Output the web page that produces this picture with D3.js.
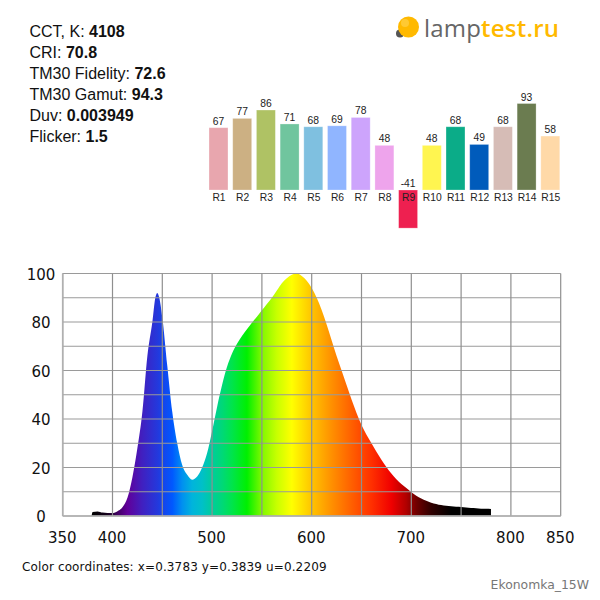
<!DOCTYPE html>
<html><head><meta charset="utf-8">
<script src="https://cdnjs.cloudflare.com/ajax/libs/d3/7.8.5/d3.min.js"></script>
<style>html,body{margin:0;padding:0;background:#fff}svg{display:block}</style>
</head><body><svg id="c" width="600" height="600"></svg>
<script>
const infoLabels=["CCT, K: ","CRI: ","TM30 Fidelity: ","TM30 Gamut: ","Duv: ","Flicker: "];
const infoValues=["4108","70.8","72.6","94.3","0.003949","1.5"];
const rNames=["R1","R2","R3","R4","R5","R6","R7","R8","R9","R10","R11","R12","R13","R14","R15"];
const rValues=[67,77,86,71,68,69,78,48,-41,48,68,49,68,93,58];
const rColors=["#E8A6AE","#CCB083","#AFC264","#70C59E","#7FC0E0","#90B5FF","#CDA4FC","#EEA4EC","#EE2050","#FFF550","#0BAC88","#005BBB","#D6BCB6","#6B7C50","#FFD9A8"];
const wavelengths=[379,380,385,390,395,400,405,410,415,420,425,430,435,440,443,445,447,450,455,460,465,470,475,480,485,490,495,500,505,510,515,520,525,530,535,540,545,550,555,560,565,570,575,580,585,590,595,600,605,610,615,620,625,630,635,640,645,650,655,660,665,670,675,680,685,690,695,700,705,710,715,720,725,730,735,740,745,750,755,760,765,770,775,780];
const intensity=[0,1.6,1.9,1.4,1.2,1.2,2,3.6,7.5,16,28,43,66,80,90,92,90,82,62,43,30,21,17,15,16.3,20,26,35,45,54,61.5,67,71,74.2,77,79.7,82.2,84.8,87.4,90,93,96,98,99.5,100,99,97,94,90,85,79,72.5,66,60,54,48,42.5,37.5,33.5,30,26.5,23.2,20.2,17.5,15.2,13.2,11.5,9.8,8.4,7.2,6.3,5.5,5,4.5,4.2,4,3.8,3.7,3.5,3.3,3.2,3,3,2.9];
const gradWl=[380,395,405,415,430,445,460,470,480,490,500,510,520,535,550,565,580,600,620,640,660,680,695,705,720,740,780];
const gradCol=["#000000","#15001c","#400060","#60009a","#4020c0","#2438dc","#0058ff","#0090f0","#00b4dc","#00c0c8","#00cc9c","#00d878","#00e44c","#00f000","#80f800","#c8ff00","#ffff00","#ffc400","#ff9000","#ff6000","#ff3000","#f00000","#b00000","#700000","#300000","#000000","#000000"];
const xTicks=[350,400,500,600,700,800,850];
const xGrid=[350,400,450,500,550,600,650,700,750,800,850];
const yTicks=[0,20,40,60,80,100];
const yGrid=[0,10,20,30,40,50,60,70,80,90,100];

const svg=d3.select("#c");
const info=svg.append("g").attr("font-family","Liberation Sans").attr("font-size",16).attr("fill","#111");
infoLabels.forEach((l,i)=>{const t=info.append("text").attr("x",29.5).attr("y",36.5+21*i);
 t.append("tspan").text(l);t.append("tspan").attr("font-weight","bold").text(infoValues[i]);});
const logo=svg.append("g");
logo.append("circle").attr("cx",400).attr("cy",33.5).attr("r",4).attr("fill","#555");
logo.append("circle").attr("cx",408.5).attr("cy",27).attr("r",10.5).attr("fill","#FFB900");
logo.append("circle").attr("cx",405).attr("cy",23).attr("r",4).attr("fill","#FFC933");
const lt=logo.append("text").attr("x",424).attr("y",37).attr("font-family","Open Sans").attr("font-size",24).attr("letter-spacing",0.2);
lt.append("tspan").attr("fill","#666").text("lamp");
lt.append("tspan").attr("fill","#FFB900").attr("font-weight",600).text("test.ru");
const bx=d3.scaleBand().domain(rNames).range([206.65,562.15]).paddingInner(0.2).paddingOuter(0.1);
const by=d3.scaleLinear().domain([0,100]).range([190,97]);
const bars=svg.append("g");
rNames.forEach((n,i)=>{const v=rValues[i],x=bx(n),w=bx.bandwidth();
 bars.append("rect").attr("x",x).attr("width",w).attr("y",Math.min(by(v),by(0))).attr("height",Math.abs(by(v)-by(0))).attr("fill",rColors[i]).attr("stroke","#fff").attr("stroke-opacity",.35).attr("stroke-width",.8);
 bars.append("text").attr("x",x+w/2).attr("y",v>=0?by(v)-3:by(0)-3).attr("text-anchor","middle").attr("font-family","Liberation Sans").attr("font-size",10.3).attr("fill","#222").text(v);
 bars.append("text").attr("x",x+w/2+0.5).attr("y",200.5).attr("text-anchor","middle").attr("font-family","Liberation Sans").attr("font-size",10.3).attr("fill","#222").text(n);
});
const x=d3.scaleLinear().domain([350,850]).range([62.7,560.7]);
const y=d3.scaleLinear().domain([0,100]).range([516,273.5]);
const defs=svg.append("defs");
const lg=defs.append("linearGradient").attr("id","sp").attr("gradientUnits","userSpaceOnUse").attr("x1",x(380)).attr("x2",x(780)).attr("y1",0).attr("y2",0);
gradWl.forEach((w,i)=>lg.append("stop").attr("offset",(w-380)/400).attr("stop-color",gradCol[i]));
const area=d3.area().x((d,i)=>x(wavelengths[i])).y0(y(0)).y1(d=>y(d)).curve(d3.curveMonotoneX);
svg.append("path").datum(intensity).attr("d",area).attr("fill","url(#sp)");
const grid=svg.append("g").attr("stroke-width",1.2);
yGrid.forEach(v=>grid.append("line").attr("x1",x(350)).attr("x2",x(850)).attr("y1",y(v)).attr("y2",y(v)).attr("stroke","#9a9a9a"));
xGrid.forEach(v=>grid.append("line").attr("x1",x(v)).attr("x2",x(v)).attr("y1",y(100)).attr("y2",y(0)).attr("stroke","#8f8f8f"));
svg.append("line").attr("x1",x(350)).attr("x2",x(850)).attr("y1",y(0)).attr("y2",y(0)).attr("stroke","#b0b0b0").attr("stroke-width",1.6);
svg.append("line").attr("x1",x(350)).attr("x2",x(350)).attr("y1",y(100)).attr("y2",y(0)).attr("stroke","#b0b0b0").attr("stroke-width",1.6);
const ax=svg.append("g").attr("transform","translate(-1,529)").call(d3.axisBottom(x).tickValues(xTicks).tickSize(0).tickFormat(d3.format("d")));
ax.select(".domain").remove();
ax.selectAll("text").attr("font-family","DejaVu Sans").attr("font-size",15).attr("fill","#111");
const ay=svg.append("g").attr("transform","translate(41,0.8)").call(d3.axisLeft(y).tickValues(yTicks).tickSize(0).tickPadding(0).tickFormat(d3.format("d")));
ay.select(".domain").remove();
ay.selectAll("text").attr("font-family","DejaVu Sans").attr("font-size",15).attr("fill","#111").attr("text-anchor","middle");
svg.append("text").attr("x",22).attr("y",571).attr("font-family","DejaVu Sans").attr("font-size",12).attr("fill","#111").attr("letter-spacing",0.13).text("Color coordinates: x=0.3783 y=0.3839 u=0.2209");
svg.append("text").attr("x",589).attr("y",589).attr("text-anchor","end").attr("font-family","DejaVu Sans").attr("font-size",12.4).attr("fill","#777").text("Ekonomka_15W");
</script></body></html>
